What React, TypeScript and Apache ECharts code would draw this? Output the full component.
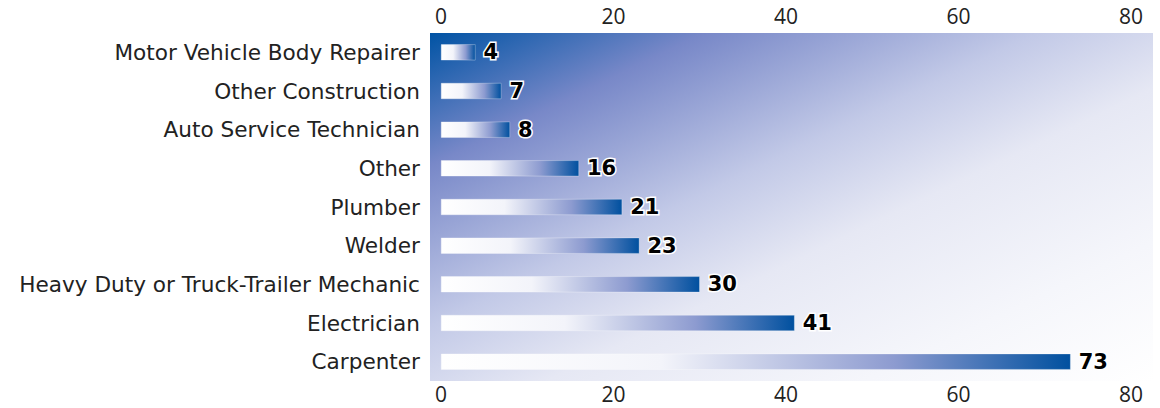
import React, { useEffect, useRef } from "react";
import * as echarts from "echarts";

const categories: string[] = [
  "Motor Vehicle Body Repairer",
  "Other Construction",
  "Auto Service Technician",
  "Other",
  "Plumber",
  "Welder",
  "Heavy Duty or Truck-Trailer Mechanic",
  "Electrician",
  "Carpenter",
];
const values: number[] = [4, 7, 8, 16, 21, 23, 30, 41, 73];
const axisMin = 0;
const axisMax = 80;
const axisInterval = 20;

export default function App() {
  const ref = useRef<HTMLDivElement>(null);
  useEffect(() => {
    if (!ref.current) return;
    const chart = echarts.init(ref.current, undefined, { renderer: "svg" });
    const barGradient = new echarts.graphic.LinearGradient(0, 0, 1, 0, [
      { offset: 0, color: "#ffffff" },
      { offset: 0.35, color: "#f3f4fa" },
      { offset: 0.72, color: "#8d9bd0" },
      { offset: 1, color: "#00509f" },
    ]);
    const bgGradient = new echarts.graphic.LinearGradient(0, 0, 1, 1, [
      { offset: 0, color: "#0053a4" },
      { offset: 0.19, color: "#7888c8" },
      { offset: 0.42, color: "#c2c9e7" },
      { offset: 0.58, color: "#e6e8f4" },
      { offset: 0.8, color: "#f5f6fb" },
      { offset: 1, color: "#ffffff" },
    ]);
    const axisLabelStyle = {
      color: "#222222",
      fontSize: 21,
      lineHeight: 20,
      fontFamily: "Open Sans",
    };
    chart.setOption({
      animation: false,
      graphic: [
        {
          type: "rect",
          z: 0,
          silent: true,
          shape: { x: 430, y: 33, width: 723, height: 348 },
          style: { fill: bgGradient },
        },
      ],
      grid: { left: 441, right: 29, top: 33, bottom: 27, containLabel: false },
      xAxis: [
        {
          type: "value",
          position: "top",
          min: axisMin,
          max: axisMax,
          interval: axisInterval,
          axisLine: { show: false },
          axisTick: { show: false },
          splitLine: { show: false },
          axisLabel: { ...axisLabelStyle, margin: 7 },
        },
        {
          type: "value",
          position: "bottom",
          min: axisMin,
          max: axisMax,
          interval: axisInterval,
          axisLine: { show: false },
          axisTick: { show: false },
          splitLine: { show: false },
          axisLabel: { ...axisLabelStyle, margin: 3 },
        },
      ],
      yAxis: {
        type: "category",
        data: categories,
        inverse: true,
        axisLine: { show: false },
        axisTick: { show: false },
        splitLine: { show: false },
        axisLabel: {
          color: "#222222",
          fontSize: 21.6,
          fontFamily: "DejaVu Sans",
          margin: 21,
        },
      },
      series: [
        {
          type: "bar",
          xAxisIndex: 0,
          data: values,
          barWidth: 16,
          z: 3,
          itemStyle: { color: barGradient, borderColor: "rgba(255,255,255,0.6)", borderWidth: 0.5 },
          label: {
            show: true,
            position: "right",
            distance: 8,
            color: "#000000",
            fontSize: 21,
            fontWeight: "bold",
            fontFamily: "DejaVu Sans",
            textBorderColor: "#ffffff",
            textBorderWidth: 3,
          },
        },
      ],
    });
    return () => chart.dispose();
  }, []);
  return (
    <div
      ref={ref}
      style={{ position: "absolute", left: 0, top: 0, width: 1160, height: 408 }}
    />
  );
}
